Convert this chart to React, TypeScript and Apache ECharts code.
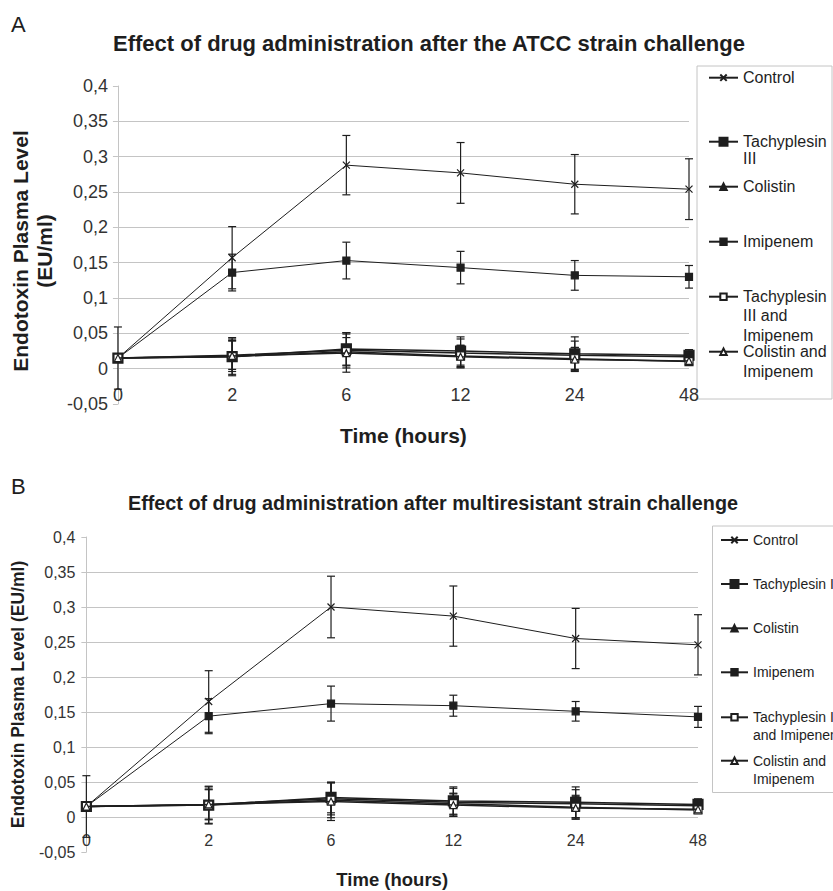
import React, { useEffect, useRef } from 'react';
import * as echarts from 'echarts';

// ---------- data ----------
const hours = ['0', '2', '6', '12', '24', '48'];
const yTicks = [-0.05, 0, 0.05, 0.1, 0.15, 0.2, 0.25, 0.3, 0.35, 0.4];
const gridValues = [0, 0.05, 0.1, 0.15, 0.2, 0.25, 0.3, 0.35];

const seriesNames = ['Control', 'Tachyplesin III', 'Colistin', 'Imipenem', 'Tachyplesin III and Imipenem', 'Colistin and Imipenem'];
const legendLabelsA = ['Control', 'Tachyplesin\nIII', 'Colistin', 'Imipenem', 'Tachyplesin\nIII and\nImipenem', 'Colistin and\nImipenem'];
const legendLabelsB = ['Control', 'Tachyplesin III', 'Colistin', 'Imipenem', 'Tachyplesin III\nand Imipenem', 'Colistin and\nImipenem'];

const titleA = 'Effect of drug administration after the ATCC strain challenge';
const titleB = 'Effect of drug administration after multiresistant strain challenge';

// Panel A (ATCC strain)
const aControl = [0.015, 0.157, 0.288, 0.277, 0.261, 0.254];
const aControlErr = [0.044, 0.044, 0.042, 0.043, 0.042, 0.043];
const aTachy = [0.015, 0.017, 0.028, 0.025, 0.021, 0.019];
const aTachyErr = [0.004, 0.027, 0.023, 0.02, 0.024, 0.008];
const aColistin = [0.015, 0.019, 0.026, 0.022, 0.019, 0.017];
const aColistinErr = [0.004, 0.02, 0.025, 0.02, 0.02, 0.006];
const aImipenem = [0.015, 0.136, 0.153, 0.143, 0.132, 0.13];
const aImipenemErr = [0.004, 0.026, 0.026, 0.023, 0.021, 0.016];
const aTachyImi = [0.015, 0.017, 0.024, 0.018, 0.014, 0.01];
const aTachyImiErr = [0.004, 0.025, 0.02, 0.015, 0.016, 0.005];
const aColImi = [0.015, 0.018, 0.022, 0.017, 0.013, 0.011];
const aColImiErr = [0.004, 0.022, 0.027, 0.016, 0.017, 0.005];

// Panel B (multiresistant strain)
const bControl = [0.015, 0.165, 0.3, 0.287, 0.255, 0.246];
const bControlErr = [0.044, 0.044, 0.044, 0.043, 0.043, 0.043];
const bTachy = [0.015, 0.017, 0.028, 0.023, 0.021, 0.018];
const bTachyErr = [0.004, 0.027, 0.022, 0.02, 0.022, 0.008];
const bColistin = [0.015, 0.018, 0.026, 0.021, 0.019, 0.016];
const bColistinErr = [0.004, 0.021, 0.023, 0.02, 0.02, 0.006];
const bImipenem = [0.015, 0.144, 0.162, 0.159, 0.151, 0.143];
const bImipenemErr = [0.004, 0.025, 0.025, 0.015, 0.014, 0.015];
const bTachyImi = [0.015, 0.017, 0.024, 0.019, 0.014, 0.01];
const bTachyImiErr = [0.004, 0.026, 0.025, 0.015, 0.017, 0.005];
const bColImi = [0.015, 0.018, 0.022, 0.017, 0.013, 0.011];
const bColImiErr = [0.004, 0.022, 0.027, 0.016, 0.016, 0.005];

// ---------- styling ----------
const FONT = 'Liberation Sans, Arial, sans-serif';
const INK = '#1e1e1e';
const GRAY = '#c4c4c4';
const crossPath = 'path://M0,0L10,10M10,0L0,10';

type Sty = { symbol: string; size: number; fill: string; lineWidth: number };
const styles: Sty[] = [
  { symbol: crossPath, size: 7, fill: INK, lineWidth: 1 },
  { symbol: 'rect', size: 10, fill: INK, lineWidth: 1.5 },
  { symbol: 'triangle', size: 7, fill: INK, lineWidth: 1.5 },
  { symbol: 'rect', size: 7, fill: INK, lineWidth: 1 },
  { symbol: 'rect', size: 8, fill: '#ffffff', lineWidth: 1.5 },
  { symbol: 'triangle', size: 7, fill: '#ffffff', lineWidth: 1.5 },
];

const errRender = (_params: any, api: any) => {
  const x = api.value(0);
  const lo = api.value(1);
  const hi = api.value(2);
  const pt = api.coord([x, hi]);
  const pb = api.coord([x, lo]);
  const w = 4;
  const style = { stroke: INK, lineWidth: 1.2 };
  return {
    type: 'group',
    children: [
      { type: 'line', shape: { x1: pt[0], y1: pt[1], x2: pb[0], y2: pb[1] }, style },
      { type: 'line', shape: { x1: pt[0] - w, y1: pt[1], x2: pt[0] + w, y2: pt[1] }, style },
      { type: 'line', shape: { x1: pb[0] - w, y1: pb[1], x2: pb[0] + w, y2: pb[1] }, style },
    ],
  };
};

const fmtY = (v: number) => {
  const t = yTicks.find((k) => Math.abs(k - v) < 1e-9);
  const val = t === undefined ? v : t;
  return String(+val.toFixed(2)).replace('.', ',');
};

function buildPanel(idx: number, values: number[][], errs: number[][]) {
  const series: any[] = [];
  values.forEach((vals, i) => {
    const s = styles[i];
    series.push({
      type: 'line',
      name: seriesNames[i],
      xAxisIndex: idx,
      yAxisIndex: idx,
      data: vals,
      symbol: s.symbol,
      symbolSize: s.size,
      showAllSymbol: true,
      lineStyle: { color: INK, width: s.lineWidth },
      itemStyle: { color: s.fill, borderColor: INK, borderWidth: 1.2 },
      z: 3 + i,
      ...(i === 0
        ? {
            markLine: {
              silent: true,
              symbol: 'none',
              label: { show: false },
              lineStyle: { color: GRAY, width: 1, type: 'solid' },
              data: gridValues.map((v) => ({ yAxis: v })),
              z: 1,
            },
          }
        : {}),
    });
    series.push({
      type: 'custom',
      name: 'err' + idx + '_' + i,
      xAxisIndex: idx,
      yAxisIndex: idx,
      renderItem: errRender,
      encode: { x: 0, y: [1, 2] },
      data: vals.map((v, k) => [k, v - errs[i][k], v + errs[i][k]]),
      z: 2,
      silent: true,
    });
  });
  return series;
}

// Legend entry whose marker sits on the first text line: prepend (n-1) empty lines
function legendItem(name: string, label: string, x: number, markerY: number, fontSize: number, lineHeight: number, iconH: number, itemWidth: number) {
  const n = label.split('\n').length;
  const text = '\n'.repeat(n - 1) + label;
  const ht = (2 * n - 1) * lineHeight;
  const top = markerY - Math.max(iconH, ht) / 2;
  return {
    data: [name],
    left: x,
    top,
    orient: 'vertical',
    padding: 0,
    itemWidth,
    itemHeight: iconH,
    selectedMode: false,
    formatter: text,
    textStyle: { fontFamily: FONT, fontSize, lineHeight, color: INK },
  };
}

const legendYA = [77.7, 141.7, 186.7, 241.7, 296.7, 351.7];
const legendLHA = [19, 17, 19, 19, 19.3, 19.5];
const legendYB = [540, 584, 628.3, 672.3, 717.3, 760.7];

export default function App() {
  const ref = useRef<HTMLDivElement>(null);
  useEffect(() => {
    if (!ref.current) return;
    const chart = echarts.init(ref.current, undefined, { renderer: 'svg' });

    const xAxisCommon = (fontSize: number, margin: number, nameGap: number, nameSize: number) => ({
      type: 'category',
      data: hours,
      boundaryGap: false,
      axisLine: { show: false, onZero: false },
      axisTick: { show: false },
      axisLabel: { fontFamily: FONT, fontSize, color: '#333', margin },
      splitLine: { show: false },
      name: 'Time (hours)',
      nameLocation: 'middle',
      nameGap,
      nameTextStyle: { fontFamily: FONT, fontSize: nameSize, fontWeight: 'bold', color: INK },
    });
    const yAxisCommon = (fontSize: number, margin: number, name: string, nameGap: number, nameSize: number, lh: number, padding: number[]) => ({
      type: 'value',
      min: -0.05,
      max: 0.4,
      interval: 0.05,
      axisLine: { show: true, lineStyle: { color: GRAY, width: 1 } },
      axisTick: { show: true, length: 5, lineStyle: { color: GRAY } },
      axisLabel: { fontFamily: FONT, fontSize, color: '#333', margin, formatter: fmtY },
      splitLine: { show: false },
      name,
      nameLocation: 'middle',
      nameRotate: 90,
      nameGap,
      nameTextStyle: { fontFamily: FONT, fontSize: nameSize, fontWeight: 'bold', color: INK, lineHeight: lh, padding },
    });

    const legends: any[] = [];
    seriesNames.forEach((nm, i) => {
      legends.push(legendItem(nm, legendLabelsA[i], 708, legendYA[i], 16, legendLHA[i], i === 1 ? 10 : 8, 29));
    });
    seriesNames.forEach((nm, i) => {
      legends.push(legendItem(nm, legendLabelsB[i], 720, legendYB[i], 14, 18, i === 1 ? 10 : 8, 27));
    });

    chart.setOption({
      animation: false,
      backgroundColor: '#ffffff',
      title: [
        { text: 'A', left: 11, top: 13, padding: 0, textStyle: { fontFamily: FONT, fontSize: 22, fontWeight: 'normal', color: INK } },
        { text: titleA, left: 429, textAlign: 'center', top: 32, padding: 0, textStyle: { fontFamily: FONT, fontSize: 22, fontWeight: 'bold', color: INK } },
        { text: 'B', left: 11, top: 475, padding: 0, textStyle: { fontFamily: FONT, fontSize: 22, fontWeight: 'normal', color: INK } },
        { text: titleB, left: 433, textAlign: 'center', top: 493, padding: 0, textStyle: { fontFamily: FONT, fontSize: 19.8, fontWeight: 'bold', color: INK } },
      ],
      grid: [
        { left: 107, top: 86, width: 582, height: 318 },
        { left: 79, top: 537, width: 619, height: 315 },
      ],
      xAxis: [
        { gridIndex: 0, ...xAxisCommon(18, -18, 21, 21) },
        { gridIndex: 1, ...xAxisCommon(16, -20, 18, 18.5) },
      ],
      yAxis: [
        { gridIndex: 0, ...yAxisCommon(18, 10, 'Endotoxin Plasma Level\n(EU/ml)', 49, 21, 24, [0, 12, 0, 0]) },
        { gridIndex: 1, ...yAxisCommon(16, 11, 'Endotoxin Plasma Level (EU/ml)', 51, 17.5, 20, [0, 0, 0, 0]) },
      ],
      legend: legends,
      graphic: [
        { type: 'rect', shape: { x: 697, y: 66, width: 135, height: 333 }, style: { fill: 'none', stroke: GRAY, lineWidth: 1 }, z: 0 },
        { type: 'rect', shape: { x: 712.5, y: 526, width: 140, height: 266.5 }, style: { fill: 'none', stroke: GRAY, lineWidth: 1 }, z: 0 },
      ],
      series: [
        ...buildPanel(0, [aControl, aTachy, aColistin, aImipenem, aTachyImi, aColImi], [aControlErr, aTachyErr, aColistinErr, aImipenemErr, aTachyImiErr, aColImiErr]),
        ...buildPanel(1, [bControl, bTachy, bColistin, bImipenem, bTachyImi, bColImi], [bControlErr, bTachyErr, bColistinErr, bImipenemErr, bTachyImiErr, bColImiErr]),
      ],
    });
    return () => chart.dispose();
  }, []);
  return <div ref={ref} style={{ position: 'absolute', left: 0, top: 0, width: 833, height: 891, background: '#fff' }} />;
}
